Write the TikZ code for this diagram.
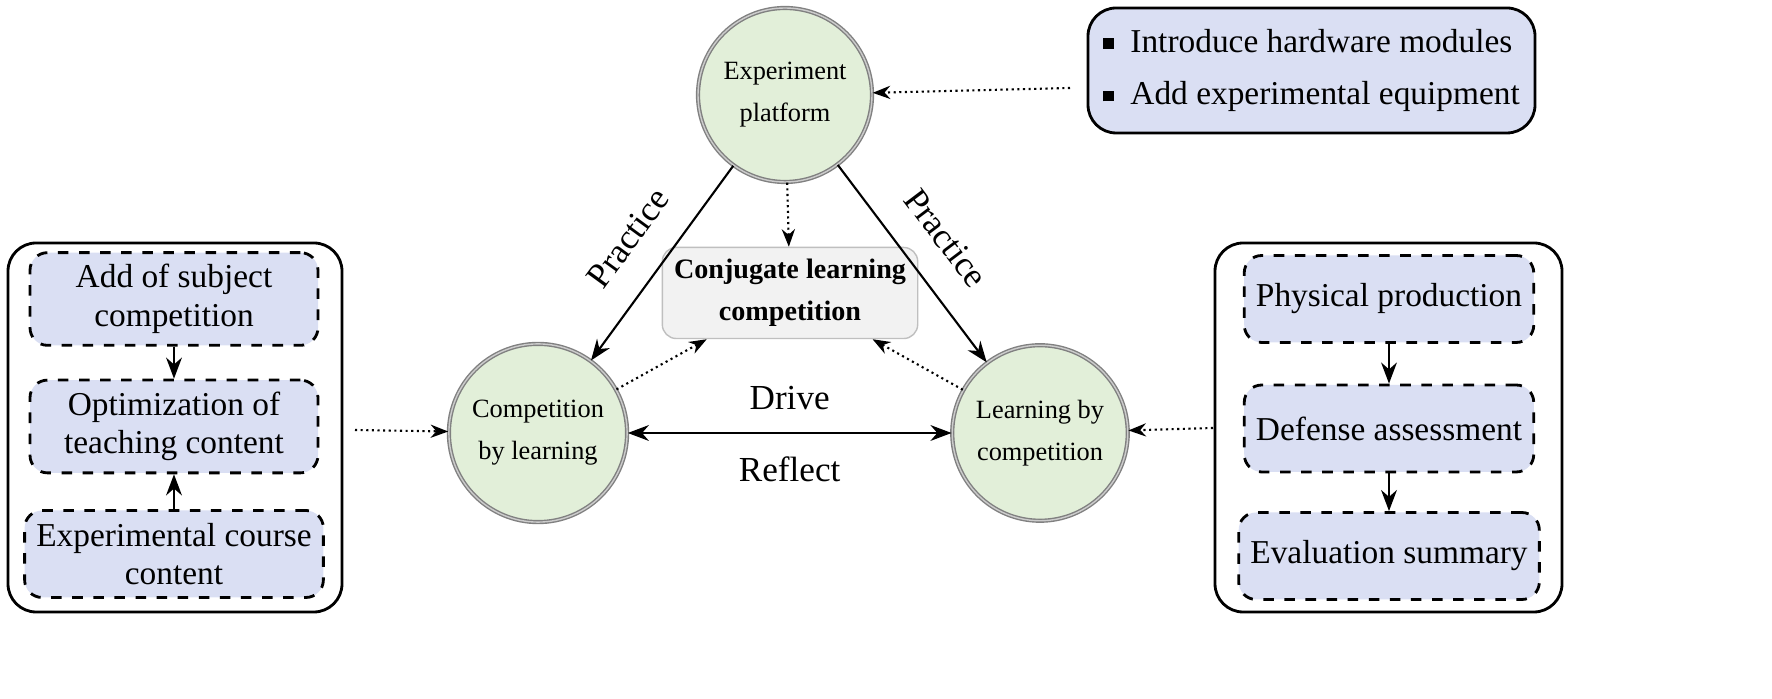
\documentclass[tikz,border=0pt]{standalone}
\usepackage{fontspec}
\setmainfont{Liberation Serif}
\usetikzlibrary{arrows.meta,positioning}
\definecolor{circfill}{HTML}{E2EFD9}
\definecolor{boxfill}{HTML}{DADFF3}
\definecolor{midfill}{HTML}{F2F2F2}
\tikzset{
  circ/.style={circle, draw=gray, double=gray!40, double distance=0.4pt, fill=circfill, minimum size=1.74cm, align=center, font=\fontsize{7.5}{9}\selectfont},
  stepbox/.style={draw, dashed, thick, rounded corners=5pt, fill=boxfill, minimum width=2.88cm, minimum height=0.87cm, align=center, font=\fontsize{9.5}{11}\selectfont},
  outer/.style={draw, thick, rounded corners=8pt},
  dot/.style={-{Stealth[length=5pt]}, densely dotted, semithick},
  arr/.style={-{Stealth[length=6pt]}, semithick},
}
\begin{document}
\begin{tikzpicture}
% circles
\node[circ] (exp) at (7.85,6.04) {Experiment\\[3pt]platform};
\node[circ] (cbl) at (5.38,2.66) {Competition\\[3pt]by learning};
\node[circ] (lbc) at (10.40,2.66) {Learning by\\[3pt]competition};
\node[draw=gray!50, fill=midfill, rounded corners=4pt, minimum width=2.3cm, minimum height=0.87cm, align=center, font=\bfseries\fontsize{8}{10}\selectfont] (mid) at (7.90,4.06) {Conjugate learning\\[2pt]competition};
% top right box
\node[draw, thick, rounded corners=8pt, fill=boxfill, minimum width=4.47cm, minimum height=1.25cm, align=left, font=\fontsize{9.5}{15}\selectfont] (hw) at (13.115,6.285) {\rule[1pt]{3pt}{3pt}\enspace Introduce hardware modules\\ \rule[1pt]{3pt}{3pt}\enspace Add experimental equipment};
% left column
\draw[outer] (0.08,0.87) rectangle (3.42,4.56);
\node[stepbox] (l1) at (1.74,4.00) {Add of subject\\competition};
\node[stepbox] (l2) at (1.74,2.725) {Optimization of\\teaching content};
\node[stepbox] (l3) at (1.74,1.45) {Experimental course\\content};
\draw[arr] (l1) -- (l2);
\draw[arr] (l3) -- (l2);
% right column
\draw[outer] (12.15,0.87) rectangle (15.62,4.56);
\node[stepbox] (r1) at (13.89,4.00) {Physical production};
\node[stepbox] (r2) at (13.89,2.705) {Defense assessment};
\node[stepbox] (r3) at (13.89,1.43) {Evaluation summary};
\draw[arr] (r1) -- (r2);
\draw[arr] (r2) -- (r3);
% connectors
\coordinate (lin) at (3.55,2.69);
\coordinate (rin) at (12.13,2.71);
\coordinate (hwl) at (10.70,6.11);
\draw[dot] (hwl) -- (exp);
\draw[dot] (exp) -- (mid);
\draw[dot] (cbl) -- (mid);
\draw[dot] (lbc) -- (mid);
\draw[dot] (lin) -- (cbl);
\draw[dot] (rin) -- (lbc);
\draw[arr] (exp) -- (cbl) node[midway, sloped, above=5pt, font=\fontsize{10}{12}\selectfont] {Practice};
\draw[arr] (exp) -- (lbc) node[midway, sloped, above=5pt, font=\fontsize{10}{12}\selectfont] {Practice};
\draw[{Stealth[length=6pt]}-{Stealth[length=6pt]}, semithick] (cbl) -- (lbc) node[midway, above=3pt, font=\fontsize{10}{12}\selectfont] {Drive} node[midway, below=3pt, font=\fontsize{10}{12}\selectfont] {Reflect};
\pgfresetboundingbox
\useasboundingbox (0,0) rectangle (17.72,6.99);
\end{tikzpicture}
\end{document}
